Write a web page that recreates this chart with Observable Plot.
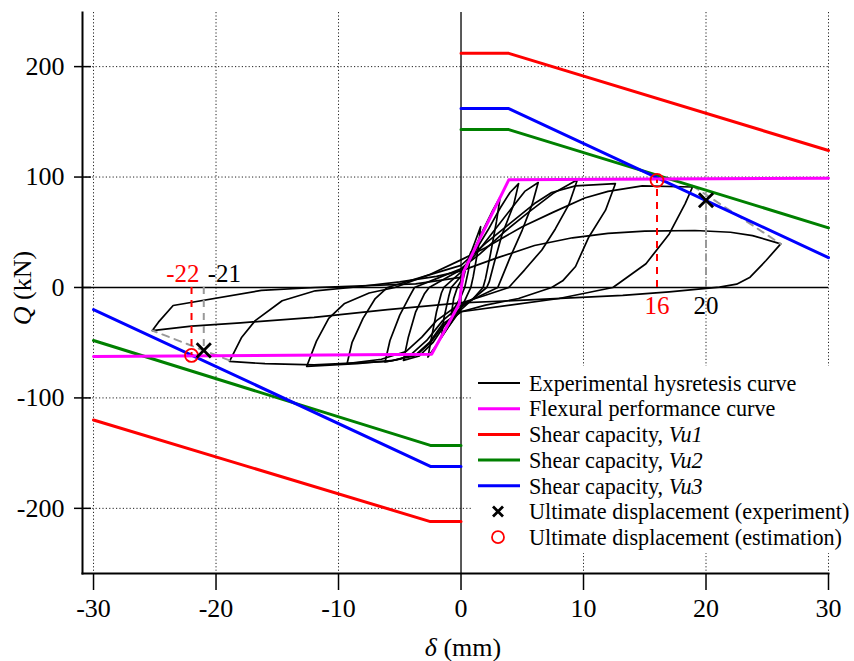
<!DOCTYPE html>
<html><head><meta charset="utf-8">
<script src="https://cdn.jsdelivr.net/npm/d3@7"></script>
<script src="https://cdn.jsdelivr.net/npm/@observablehq/plot@0.6"></script>
<style>
body{margin:0;background:#fff;}
#wrap{position:relative;width:854px;height:661px;}
svg{font-family:"Liberation Serif","Times New Roman",serif;}
</style></head><body><div id="wrap"></div>
<script>
const xTicks = [-30,-20,-10,0,10,20,30];
const yTicks = [-200,-100,0,100,200];
const xGrid = [-30,-20,-10,10,20,30];
const yGrid = [-200,-100,100,200];

// hysteresis cycles [delta, Q]
const cycle1 = [[0,0],[0.4,18],[0.8,32],[0.6,15],[0.3,0],[0,-8],[-0.4,-16],[-0.8,-25],[-0.6,-10],[-0.3,0],[0,6]];
const cycle2 = [[0,6],[0.5,22],[1.1,40],[1.6,55],[1.4,35],[1.0,10],[0.8,0],[0.3,-12],[0,-18],[-0.8,-32],[-1.6,-45],[-1.4,-28],[-1.0,-8],[-0.8,0],[0,10]];
const cycle3 = [[0,10],[0.8,28],[1.8,52],[2.6,70],[3.2,82],[2.9,60],[2.4,30],[2.0,8],[1.8,0],[1.0,-10],[0,-20],[-1.0,-35],[-2.0,-52],[-2.7,-63],[-2.4,-45],[-2.0,-22],[-1.6,-5],[-1.4,0],[0,14]];
const cycle4 = [[0,14],[1.0,30],[2.2,52],[3.2,72],[4.0,86],[4.7,94],[4.3,75],[3.35,48],[2.7,22],[2.3,5],[2.1,0],[1,-10],[0,-18],[-1.2,-32],[-2.3,-50],[-3.4,-62],[-4.7,-66],[-4.3,-45],[-3.7,-22],[-3.0,-6],[-2.6,0],[-1.0,10],[0,16]];
const cycle5 = [[0,16],[1.2,30],[2.6,50],[4.0,70],[5.2,87],[6.3,95],[5.8,75],[5.0,52],[4.0,27],[3.3,8],[3.0,0],[1.5,-8],[0,-16],[-1.5,-30],[-2.8,-48],[-4.0,-60],[-5.0,-65],[-6.2,-67.5],[-5.8,-48],[-5.0,-25],[-4.2,-8],[-3.8,0],[-2,8],[0,17]];
const cycle6 = [[0,17],[1.5,30],[3.5,50],[5.5,68],[7.5,85],[9.5,97.5],[8.8,75],[7.7,53],[6.6,34],[5.2,16],[4.3,5],[3.9,0],[2,-7],[0,-14],[-2,-30],[-3.2,-45],[-4.5,-58],[-6.5,-65],[-9.3,-69],[-8.9,-50],[-8.0,-28],[-7.0,-10],[-6.0,0],[-3,10],[0,20]];
const cycle7 = [[0,20],[2,40],[4,58],[6,76],[7.4,86],[9.35,92],[12.6,94],[11.8,70],[10.4,45],[9.35,19],[8.3,6],[7.4,0],[4.7,-10],[2,-16],[0,-22],[-1.5,-35],[-2.5,-50],[-3.5,-60],[-5.5,-66],[-8.5,-69],[-12.6,-71.5],[-11.8,-48.6],[-10.8,-28],[-9.5,-14.5],[-7.5,-5],[-5.4,0],[-2.5,12],[0,25]];
const cycle8 = [[0,25],[2,36],[5,55],[7.5,68],[10.1,81],[12,87],[14.8,92],[18.9,91],[18.3,76],[17,48.5],[15.1,21.5],[13.2,6.3],[12.4,0],[8,-10],[4,-16],[0,-22],[-1.5,-33],[-2.6,-50],[-3.8,-62],[-6,-67],[-12,-70],[-16,-69],[-18.9,-67],[-17.9,-45],[-16.8,-30],[-14.6,-12],[-11.9,-3],[-9,0],[-5,5],[-2,10],[0,15]];
const cycle9 = [[0,15],[3,27],[6,38],[9.1,45],[12,49],[15,51],[19.1,51.6],[22,50],[23.8,47],[26.1,39.5],[24.9,24.4],[23.6,9.3],[22.5,3],[21.1,0.3],[17,-4],[13.2,-7.2],[6,-11],[0,-14],[-6,-20],[-12,-27],[-18,-32],[-22,-35],[-25.2,-39],[-24.7,-31.4],[-23.5,-16.3],[-16.3,-2.7],[-11.9,0],[-3.7,3.3],[0.1,9.3]];
const cycles = [cycle1,cycle2,cycle3,cycle4,cycle5,cycle6,cycle7,cycle8,cycle9];

// post-peak envelope (grey dashed)
const envPos = [[18.9,92],[26.1,39.5]];
const envNeg = [[-18.9,-66],[-25.2,-39]];

// flexural performance curve
const flexural = [[-30,-62.5],[-2.4,-60.5],[-0.15,-15],[0.2,14],[3.9,97.5],[30,99]];

// shear capacities
const vu1Pos = [[0,212],[3.9,212],[30,124]];
const vu1Neg = [[0,-212],[-2.5,-212],[-30,-120]];
const vu2Pos = [[0,143],[3.9,143],[30,54]];
const vu2Neg = [[0,-143],[-2.5,-143],[-30,-48]];
const vu3Pos = [[0,162],[3.9,162],[30,27]];
const vu3Neg = [[0,-162],[-2.5,-162],[-30,-20]];

// ultimate displacement
const ultExp = [[20,79],[-21,-57]];
const ultEst = [[16,97],[-22,-61.5]];
const expLabels = ["20","-21"];
const estLabels = ["16","-22"];

const legendItems = [
  {type:"line", color:"#000", w:2, text:["Experimental hysretesis curve"]},
  {type:"line", color:"#ff00ff", w:3, text:["Flexural performance curve"]},
  {type:"line", color:"#ff0000", w:3, text:["Shear capacity, ","Vu1"]},
  {type:"line", color:"#008000", w:3, text:["Shear capacity, ","Vu2"]},
  {type:"line", color:"#0000ff", w:3, text:["Shear capacity, ","Vu3"]},
  {type:"x", color:"#000", text:["Ultimate displacement (experiment)"]},
  {type:"o", color:"#ff0000", text:["Ultimate displacement (estimation)"]}
];

const hyst = cycles.flatMap((c,i)=>c.map(p=>({x:p[0],y:p[1],c:i})));
const pts = a => a.map(p=>({x:p[0],y:p[1]}));
const L = (a, o) => Plot.line(pts(a), {x:"x", y:"y", ...o});

const plot = Plot.plot({
  width: 854, height: 661,
  marginLeft: 82, marginRight: 26, marginTop: 12, marginBottom: 88,
  style: {fontFamily: "Liberation Serif, Times New Roman, serif", fontSize: "26px", background: "white", color: "black"},
  x: {domain: [-30.9, 30], label: null},
  y: {domain: [-259, 249], label: null},
  marks: [
    Plot.ruleX(xGrid, {stroke: "#222", strokeWidth: 1, strokeDasharray: "1.2,2.2"}),
    Plot.ruleY(yGrid, {stroke: "#222", strokeWidth: 1, strokeDasharray: "1.2,2.2"}),
    Plot.ruleX([0], {stroke: "#000", strokeWidth: 1.3}),
    Plot.ruleY([0], {stroke: "#000", strokeWidth: 1.3}),
    Plot.line(hyst, {x:"x", y:"y", z:"c", stroke:"#000", strokeWidth:1.7, curve:"linear"}),
    L(envPos, {stroke:"#999", strokeWidth:2, strokeDasharray:"7,6"}),
    L(envNeg, {stroke:"#999", strokeWidth:2, strokeDasharray:"7,6"}),
    Plot.ruleX(ultExp.map(p=>({x:p[0],y:p[1]})), {x:"x", y1:0, y2:"y", stroke:"#999", strokeWidth:2, strokeDasharray:"7,6"}),
    L(vu1Pos, {stroke:"#ff0000", strokeWidth:3}),
    L(vu1Neg, {stroke:"#ff0000", strokeWidth:3}),
    L(vu2Pos, {stroke:"#008000", strokeWidth:3}),
    L(vu2Neg, {stroke:"#008000", strokeWidth:3}),
    L(vu3Pos, {stroke:"#0000ff", strokeWidth:3}),
    L(vu3Neg, {stroke:"#0000ff", strokeWidth:3}),
    L(flexural, {stroke:"#ff00ff", strokeWidth:3}),
    Plot.ruleX(ultEst.map(p=>({x:p[0],y:p[1]})), {x:"x", y1:0, y2:"y", stroke:"#ff0000", strokeWidth:2, strokeDasharray:"7,6"}),
    Plot.dot(pts(ultEst), {x:"x", y:"y", r:6.5, stroke:"#ff0000", strokeWidth:1.8, fill:"none"}),
    Plot.dot(pts(ultExp), {x:"x", y:"y", r:6.5, symbol:"times", stroke:"#000", strokeWidth:2.8}),
    Plot.text([ultEst[0]], {x:d=>d[0], y:0, text:()=>estLabels[0], fill:"#ff0000", fontSize:25, lineAnchor:"top", dy:9}),
    Plot.text([ultExp[0]], {x:d=>d[0], y:0, text:()=>expLabels[0], fill:"#000", fontSize:25, lineAnchor:"top", dy:9}),
    Plot.text([ultEst[1]], {x:d=>d[0], y:0, text:()=>estLabels[1], fill:"#ff0000", fontSize:25, lineAnchor:"bottom", textAnchor:"end", dx:8, dy:-5}),
    Plot.text([ultExp[1]], {x:d=>d[0], y:0, text:()=>expLabels[1], fill:"#000", fontSize:25, lineAnchor:"bottom", textAnchor:"start", dx:4, dy:-5}),
    Plot.axisX(xTicks, {tickSize: 17, tickPadding: 8, tickFormat: d=>String(d), fontSize: 26, strokeWidth: 1.5}),
    Plot.axisY(yTicks, {tickSize: 17, dx: 9, text: null, strokeWidth: 1.5}),
    Plot.axisY(yTicks, {tickSize: 0, tickPadding: 18, tickFormat: d=>String(d), fontSize: 26}),
    Plot.frame({anchor:"left", strokeWidth: 2}),
    Plot.frame({anchor:"bottom", strokeWidth: 2})
  ]
});
document.getElementById("wrap").appendChild(plot);

const svg = d3.select(plot);
// axis titles
const xt = svg.append("text").attr("x", 463).attr("y", 656).attr("text-anchor","middle").attr("font-size", 26).attr("fill","#000");
xt.append("tspan").attr("font-style","italic").text("δ");
xt.append("tspan").text(" (mm)");
const yt = svg.append("text").attr("transform","translate(31,288) rotate(-90)").attr("text-anchor","middle").attr("font-size", 26).attr("fill","#000");
yt.append("tspan").attr("font-style","italic").text("Q");
yt.append("tspan").text(" (kN)");

// legend
const lg = svg.append("g").attr("transform","translate(472,366)");
lg.append("rect").attr("width", 382).attr("height", 187).attr("fill","#fff");
legendItems.forEach((it,i)=>{
  const cy = 17 + i*25.7;
  if (it.type==="line") {
    lg.append("line").attr("x1",6).attr("x2",48).attr("y1",cy).attr("y2",cy).attr("stroke",it.color).attr("stroke-width",it.w);
  } else if (it.type==="x") {
    lg.append("path").attr("d",`M${26-5},${cy-5}L${26+5},${cy+5}M${26-5},${cy+5}L${26+5},${cy-5}`).attr("stroke","#000").attr("stroke-width",2.8);
  } else {
    lg.append("circle").attr("cx",26).attr("cy",cy).attr("r",6).attr("stroke","#f00").attr("stroke-width",1.8).attr("fill","none");
  }
  const t = lg.append("text").attr("x",57).attr("y",cy).attr("dy","0.35em").attr("text-anchor","start").attr("font-size",22.2).attr("fill","#000");
  t.append("tspan").text(it.text[0]);
  if (it.text[1]) t.append("tspan").attr("font-style","italic").text(it.text[1]);
});
</script></body></html>
